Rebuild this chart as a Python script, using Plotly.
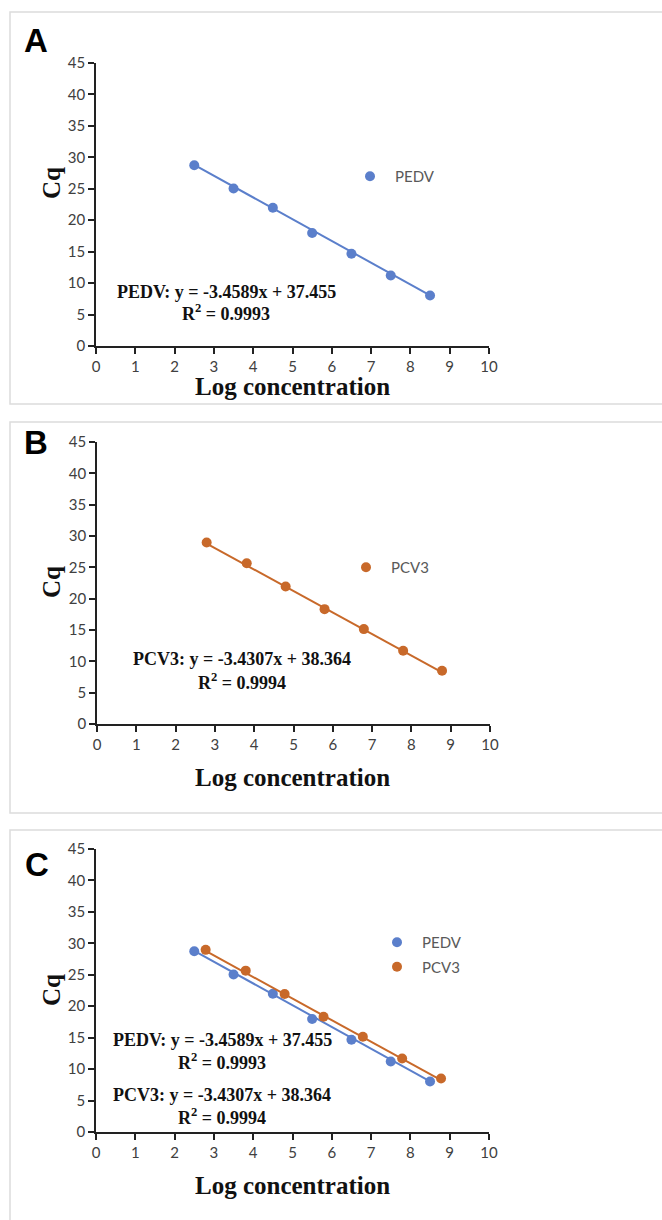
import plotly.graph_objects as go

# ---- data ----
pedv_x = [2.5, 3.5, 4.5, 5.5, 6.5, 7.5, 8.5]
pedv_y = [28.75, 25.05, 21.97, 17.98, 14.68, 11.22, 8.03]
pcv3_x = [2.79, 3.81, 4.80, 5.79, 6.79, 7.79, 8.78]
pcv3_y = [28.96, 25.66, 21.94, 18.33, 15.14, 11.69, 8.50]

pedv_slope, pedv_intercept, pedv_r2 = -3.4589, 37.455, "0.9993"
pcv3_slope, pcv3_intercept, pcv3_r2 = -3.4307, 38.364, "0.9994"

x_ticks = list(range(0, 11))
y_ticks = list(range(0, 50, 5))

BLUE = "#5B7FCB"
ORANGE = "#C8692A"

W, H = 662, 1220


def px(x):
    return x / W


def py(y):
    return 1 - y / H


def fit(xs, m, b):
    return [m * v + b for v in xs]


fig = go.Figure()

# panel geometry (pixels): x0, x1, ytop, ybottom
panels = {
    "": (96, 489, 63, 346),
    "2": (97, 490, 442, 724),
    "3": (96, 489, 849, 1132),
}


def add_series(ax, xs, ys, m, b, color, name, legend):
    xa = "x" + ax
    ya = "y" + ax
    fig.add_trace(go.Scatter(
        x=[xs[0], xs[-1]], y=fit([xs[0], xs[-1]], m, b), mode="lines",
        line=dict(color=color, width=2), showlegend=False, hoverinfo="skip",
        xaxis=xa, yaxis=ya))
    fig.add_trace(go.Scatter(
        x=xs, y=ys, mode="markers", name=name,
        marker=dict(color=color, size=10, line=dict(width=0)),
        xaxis=xa, yaxis=ya, legend=legend, legendgroup=name + ax))


add_series("", pedv_x, pedv_y, pedv_slope, pedv_intercept, BLUE, "PEDV", "legend")
add_series("2", pcv3_x, pcv3_y, pcv3_slope, pcv3_intercept, ORANGE, "PCV3", "legend2")
add_series("3", pedv_x, pedv_y, pedv_slope, pedv_intercept, BLUE, "PEDV", "legend3")
add_series("3", pcv3_x, pcv3_y, pcv3_slope, pcv3_intercept, ORANGE, "PCV3", "legend3")

tick_font = dict(family="Lato", size=15, color="#404040")
layout_axes = {}
for k, (x0, x1, yt, yb) in panels.items():
    layout_axes["xaxis" + k] = dict(
        domain=[px(x0), px(x1)], range=[0, 10], tickvals=x_ticks,
        showline=True, linecolor="#222", linewidth=1.5, ticks="outside",
        ticklen=6, tickwidth=1.5, tickcolor="#222", showgrid=False,
        zeroline=False, tickfont=tick_font, anchor="y" + k, fixedrange=True,
        automargin=False)
    layout_axes["yaxis" + k] = dict(
        domain=[py(yb), py(yt)], range=[0, 45], tickvals=y_ticks,
        showline=True, linecolor="#222", linewidth=1.5, ticks="outside",
        ticklen=6, tickwidth=1.5, tickcolor="#222", showgrid=False,
        zeroline=False, tickfont=tick_font, anchor="x" + k, fixedrange=True,
        automargin=False)

leg_font = dict(family="Lato", size=15, color="#595959")
leg_common = dict(bgcolor="rgba(0,0,0,0)", font=leg_font, xanchor="left",
                  yanchor="top", itemclick=False, tracegroupgap=2,
                  itemwidth=40)

fig.update_layout(
    width=W, height=H, margin=dict(l=0, r=0, t=0, b=0, autoexpand=False),
    paper_bgcolor="white", plot_bgcolor="white",
    legend=dict(x=px(345), y=py(160), **leg_common),
    legend2=dict(x=px(341), y=py(551), **leg_common),
    legend3=dict(x=px(372), y=py(926), **leg_common),
    **layout_axes,
)

# panel frames
for (y0, y1) in [(12, 404), (422, 813), (830, 1240)]:
    fig.add_shape(type="rect", xref="paper", yref="paper",
                  x0=px(10), x1=px(680), y0=py(y1), y1=py(y0),
                  line=dict(color="#DCDCDC", width=1.5), layer="below")

ann = []


def text(x, y, s, size, family="Liberation Serif", color="#111", angle=0, bold=True):
    ann.append(dict(x=px(x), y=py(y), xref="paper", yref="paper",
                    text=("<b>%s</b>" % s) if bold else s, showarrow=False,
                    font=dict(family=family, size=size, color=color),
                    xanchor="center", yanchor="middle", textangle=angle))


# panel letters
text(36, 40, "A", 33, family="Liberation Sans", color="#000")
text(36, 443, "B", 33, family="Liberation Sans", color="#000")
text(37, 864, "C", 33, family="Liberation Sans", color="#000")

# axis titles
for (ytitle, xtitle) in [(183, 386), (582, 777), (990, 1185)]:
    text(51, ytitle, "Cq", 25, angle=-90)
    text(292, xtitle, "Log concentration", 25)


def eq(name, m, b):
    return "%s: y = %.4fx + %.3f" % (name, m, b)


def r2(v):
    return "R<sup>2</sup> = %s" % v


text(226, 292, eq("PEDV", pedv_slope, pedv_intercept), 18)
text(226, 313, r2(pedv_r2), 18)
text(242, 659, eq("PCV3", pcv3_slope, pcv3_intercept), 18)
text(242, 681, r2(pcv3_r2), 18)
text(222, 1040, eq("PEDV", pedv_slope, pedv_intercept), 18)
text(222, 1061, r2(pedv_r2), 18)
text(222, 1095, eq("PCV3", pcv3_slope, pcv3_intercept), 18)
text(222, 1116, r2(pcv3_r2), 18)

fig.update_layout(annotations=ann)
fig.write_html(
    "out.html",
    post_script="document.body.style.margin='0';document.body.style.padding='0';",
)
